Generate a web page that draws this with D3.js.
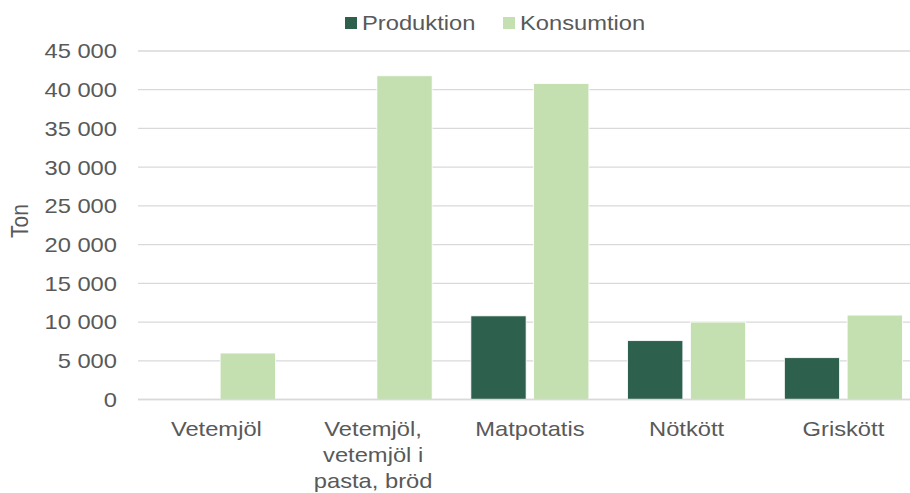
<!DOCTYPE html>
<html><head><meta charset="utf-8">
<script src="https://cdn.jsdelivr.net/npm/d3@7"></script>
<style>html,body{margin:0;padding:0;background:#fff;}svg{display:block;}</style>
</head><body>
<svg id="chart" width="910" height="493"></svg>
<script>
const categories = [["Vetemjöl"], ["Vetemjöl,", "vetemjöl i", "pasta, bröd"], ["Matpotatis"], ["Nötkött"], ["Griskött"]];
const seriesNames = ["Produktion", "Konsumtion"];
const produktion = [0, 0, 10800, 7600, 5400];
const konsumtion = [6000, 41800, 40800, 10000, 10900];
const yTicks = [0, 5000, 10000, 15000, 20000, 25000, 30000, 35000, 40000, 45000];
const colors = ["#2d614d", "#c4dfb0"];

const svg = d3.select("#chart");
const font = "'Liberation Sans', Arial, sans-serif";
const textColor = "#595959";
const fs = 21;
const sx = 1.13; // horizontal stretch of text

const y = d3.scaleLinear().domain([0, 45000]).range([399.5, 51]);
const x0 = d3.scaleBand().domain(d3.range(categories.length)).range([138, 921.75]).paddingInner(0.247).paddingOuter(0.1235);
const x1 = d3.scaleBand().domain(seriesNames).range([0, x0.bandwidth()]).paddingInner(0.12);

function txt(g, x, yy, anchor) {
  return g.append("text")
    .attr("transform", `translate(${x},${yy}) scale(${sx},1)`)
    .attr("text-anchor", anchor)
    .attr("font-family", font).attr("font-size", fs).attr("fill", textColor);
}

// gridlines
svg.append("g").selectAll("line").data(yTicks).join("line")
  .attr("x1", 138).attr("x2", 910)
  .attr("y1", d => y(d)).attr("y2", d => y(d))
  .attr("stroke", "#d9d9d9").attr("stroke-width", 1.3);

// y tick labels
const fmt = d => d3.format(",")(d).replace(/,/g, " ");
const gy = svg.append("g");
yTicks.forEach(t => {
  txt(gy, 117, y(t), "end").attr("dy", "0.35em").text(fmt(t));
});

// bars
const data = categories.map((c, i) => ({i, vals: [produktion[i], konsumtion[i]]}));
const groups = svg.append("g").selectAll("g").data(data).join("g")
  .attr("transform", d => `translate(${x0(d.i)},0)`);
groups.selectAll("rect").data(d => d.vals.map((v, k) => ({k, v}))).join("rect")
  .filter(d => d.v > 0)
  .attr("x", d => x1(seriesNames[d.k]))
  .attr("width", x1.bandwidth())
  .attr("y", d => y(d.v))
  .attr("height", d => y(0) - y(d.v))
  .attr("fill", d => colors[d.k])
  .attr("stroke", "#ffffff").attr("stroke-width", 0.8);

// baseline
svg.append("line").attr("x1", 138).attr("x2", 910).attr("y1", y(0)).attr("y2", y(0))
  .attr("stroke", "#d9d9d9").attr("stroke-width", 1.5);

// x labels
const gx = svg.append("g");
data.forEach(d => {
  const t = txt(gx, x0(d.i) + x0.bandwidth() / 2, 436, "middle");
  categories[d.i].forEach((line, j) => {
    t.append("tspan").attr("x", 0).attr("y", j * 26).text(line);
  });
});

// y axis title
svg.append("text").attr("transform", `translate(20,221) scale(${sx},1) rotate(-90)`)
  .attr("text-anchor", "middle").attr("dy", "0.35em")
  .attr("font-family", font).attr("font-size", fs)
  .attr("fill", textColor).text("Ton");

// legend
const legendX = [345, 503];
const lg = svg.append("g");
seriesNames.forEach((name, i) => {
  lg.append("rect").attr("x", legendX[i]).attr("y", 17).attr("width", 12).attr("height", 12).attr("fill", colors[i]);
  txt(lg, legendX[i] + 17, 23, "start").attr("dy", "0.35em").text(name);
});
</script>
</body></html>
